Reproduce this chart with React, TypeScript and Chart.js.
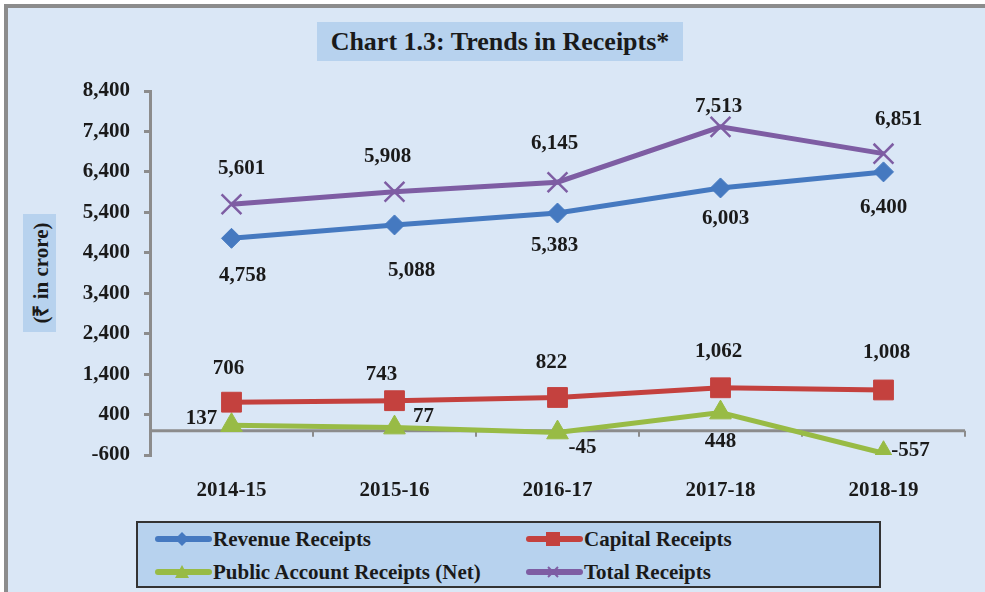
import React, { useEffect, useRef } from "react";
import { Chart, registerables } from "chart.js";

Chart.register(...registerables);

const categories = ["2014-15", "2015-16", "2016-17", "2017-18", "2018-19"];
const revenueReceipts = [4758, 5088, 5383, 6003, 6400];
const capitalReceipts = [706, 743, 822, 1062, 1008];
const publicAccountReceipts = [137, 77, -45, 448, -557];
const totalReceipts = [5601, 5908, 6145, 7513, 6851];
const yMin = -600;
const yMax = 8400;
const yStep = 1000;

const seriesNames = [
  "Revenue Receipts",
  "Capital Receipts",
  "Public Account Receipts (Net)",
  "Total Receipts",
];
const colors = ["#4579c0", "#c4413e", "#98bb45", "#7e5da3"];

// label offsets (px) relative to each point, per series
const labelOffsets: number[][][] = [
  [[11, 37], [17, 46], [-3, 33], [5, 31], [0, 36]],
  [[-3, -34], [-13, -26], [-6, -35], [-2, -36], [3, -37]],
  [[-30, -7], [29, -11], [25, 15], [0, 29], [27, -3]],
  [[10, -36], [-7, -35], [-3, -39], [-2, -20], [15, -34]],
];

const FONT = "'Liberation Serif', 'Times New Roman', serif";
const fmt = (v: number) => v.toLocaleString("en-US");

const zeroLinePlugin = {
  id: "zeroLine",
  beforeDatasetsDraw(chart: any) {
    const { ctx, chartArea, scales } = chart;
    const y0 = scales.y.getPixelForValue(0);
    ctx.save();
    ctx.strokeStyle = "#8c8c8c";
    ctx.lineWidth = 3;
    ctx.beginPath();
    ctx.moveTo(chartArea.left, y0);
    ctx.lineTo(chartArea.right, y0);
    ctx.stroke();
    const n = categories.length;
    ctx.lineWidth = 2;
    for (let i = 1; i <= n; i++) {
      const x =
        i < n
          ? (scales.x.getPixelForValue(i - 1) + scales.x.getPixelForValue(i)) / 2
          : chartArea.right;
      ctx.beginPath();
      ctx.moveTo(x, y0);
      ctx.lineTo(x, y0 + 6);
      ctx.stroke();
    }
    ctx.restore();
  },
};

const labelPlugin = {
  id: "pointLabels",
  afterDatasetsDraw(chart: any) {
    const { ctx } = chart;
    ctx.save();
    ctx.font = `bold 21px ${FONT}`;
    ctx.fillStyle = "#1a1a1a";
    ctx.textAlign = "center";
    ctx.textBaseline = "middle";
    chart.data.datasets.forEach((ds: any, di: number) => {
      const meta = chart.getDatasetMeta(di);
      meta.data.forEach((pt: any, i: number) => {
        const off = labelOffsets[di][i];
        ctx.fillText(fmt(ds.data[i]), pt.x + off[0], pt.y + off[1]);
      });
    });
    ctx.restore();
  },
};

function LegendMarker({ idx }: { idx: number }) {
  const c = colors[idx];
  let marker: React.ReactNode = null;
  if (idx === 0) marker = <polygon points="27,1 34,8 27,15 20,8" fill={c} />;
  if (idx === 1) marker = <rect x="20" y="1" width="14" height="14" fill={c} />;
  if (idx === 2) marker = <polygon points="27,1 34,14 20,14" fill={c} />;
  if (idx === 3)
    marker = (
      <g stroke={c} strokeWidth="2">
        <line x1="22" y1="3" x2="32" y2="13" />
        <line x1="32" y1="3" x2="22" y2="13" />
      </g>
    );
  return (
    <svg width="58" height="16" style={{ display: "block" }}>
      <line x1="3" y1="8" x2="54" y2="8" stroke={c} strokeWidth="6" strokeLinecap="round" />
      {marker}
    </svg>
  );
}

export default function App() {
  const canvasRef = useRef<HTMLCanvasElement>(null);

  useEffect(() => {
    if (!canvasRef.current) return;
    const pointStyles = ["rectRot", "rect", "triangle", "crossRot"];
    const radii = [10, 14, 12.5, 14];
    const datas = [revenueReceipts, capitalReceipts, publicAccountReceipts, totalReceipts];
    const chart = new Chart(canvasRef.current, {
      type: "line",
      data: {
        labels: categories,
        datasets: datas.map((d, i) => ({
          label: seriesNames[i],
          data: d,
          borderColor: colors[i],
          backgroundColor: colors[i],
          borderWidth: 5,
          pointStyle: pointStyles[i] as any,
          pointRadius: radii[i],
          pointBorderWidth: i === 3 ? 2.5 : 1,
          pointBorderColor: colors[i],
          pointBackgroundColor: colors[i],
          tension: 0,
        })),
      },
      options: {
        animation: false,
        responsive: false,
        maintainAspectRatio: false,
        layout: { padding: { left: 80, top: 91, right: 20, bottom: 87 } },
        plugins: {
          legend: { display: false },
          title: { display: false },
          tooltip: { enabled: false },
        },
        scales: {
          x: {
            offset: true,
            grid: { display: false },
            border: { display: false },
            ticks: {
              padding: 15,
              color: "#1a1a1a",
              font: { family: FONT, size: 21, weight: "bold" },
            },
            afterFit(scale: any) {
              scale.height = 50;
            },
          },
          y: {
            min: yMin,
            max: yMax,
            grid: {
              drawOnChartArea: false,
              drawTicks: true,
              tickLength: 6,
              color: "#8c8c8c",
              lineWidth: 3,
            },
            border: { display: true, color: "#8c8c8c", width: 3 },
            ticks: {
              stepSize: yStep,
              padding: 14,
              color: "#1a1a1a",
              font: { family: FONT, size: 21, weight: "bold" },
              callback: (v: any) => fmt(Number(v)),
            },
            afterFit(scale: any) {
              scale.width = 70;
            },
          },
        },
      },
      plugins: [zeroLinePlugin, labelPlugin],
    });
    return () => chart.destroy();
  }, []);

  return (
    <div
      style={{
        position: "absolute",
        left: 0,
        top: 0,
        width: 985,
        height: 592,
        overflow: "hidden",
        background: "#ffffff",
        fontFamily: FONT,
      }}
    >
      <div
        style={{
          position: "absolute",
          left: 4,
          top: 4,
          width: 1000,
          height: 620,
          border: "4px solid #8c8c8c",
          background: "#dae7f6",
        }}
      />
      <canvas
        ref={canvasRef}
        width={985}
        height={592}
        style={{ position: "absolute", left: 0, top: 0, width: 985, height: 592 }}
      />
      <div
        style={{
          position: "absolute",
          left: 317,
          top: 22,
          width: 366,
          height: 39,
          background: "#b7d2ee",
          display: "flex",
          alignItems: "center",
          justifyContent: "center",
          fontWeight: "bold",
          fontSize: 26,
          color: "#1a1a1a",
          whiteSpace: "nowrap",
        }}
      >
        Chart 1.3: Trends in Receipts*
      </div>
      <div
        style={{
          position: "absolute",
          left: 23,
          top: 214,
          width: 33,
          height: 118,
          background: "#b7d2ee",
        }}
      >
        <div
          style={{
            position: "absolute",
            left: "50%",
            top: "50%",
            transform: "translate(-50%, -50%) rotate(-90deg)",
            fontWeight: "bold",
            fontSize: 21,
            color: "#1a1a1a",
            whiteSpace: "nowrap",
          }}
        >
          (₹ in crore)
        </div>
      </div>
      <div
        style={{
          position: "absolute",
          left: 136,
          top: 521,
          width: 741,
          height: 63,
          background: "#b7d2ee",
          border: "2px solid #333",
        }}
      >
        {seriesNames.map((name, i) => (
          <div
            key={name}
            style={{
              position: "absolute",
              left: i % 2 === 0 ? 17 : 388,
              top: i < 2 ? 4 : 37,
              display: "flex",
              alignItems: "center",
              fontWeight: "bold",
              fontSize: 21,
              color: "#1a1a1a",
              whiteSpace: "nowrap",
              lineHeight: "24px",
            }}
          >
            <LegendMarker idx={i} />
            <span>{name}</span>
          </div>
        ))}
      </div>
    </div>
  );
}
